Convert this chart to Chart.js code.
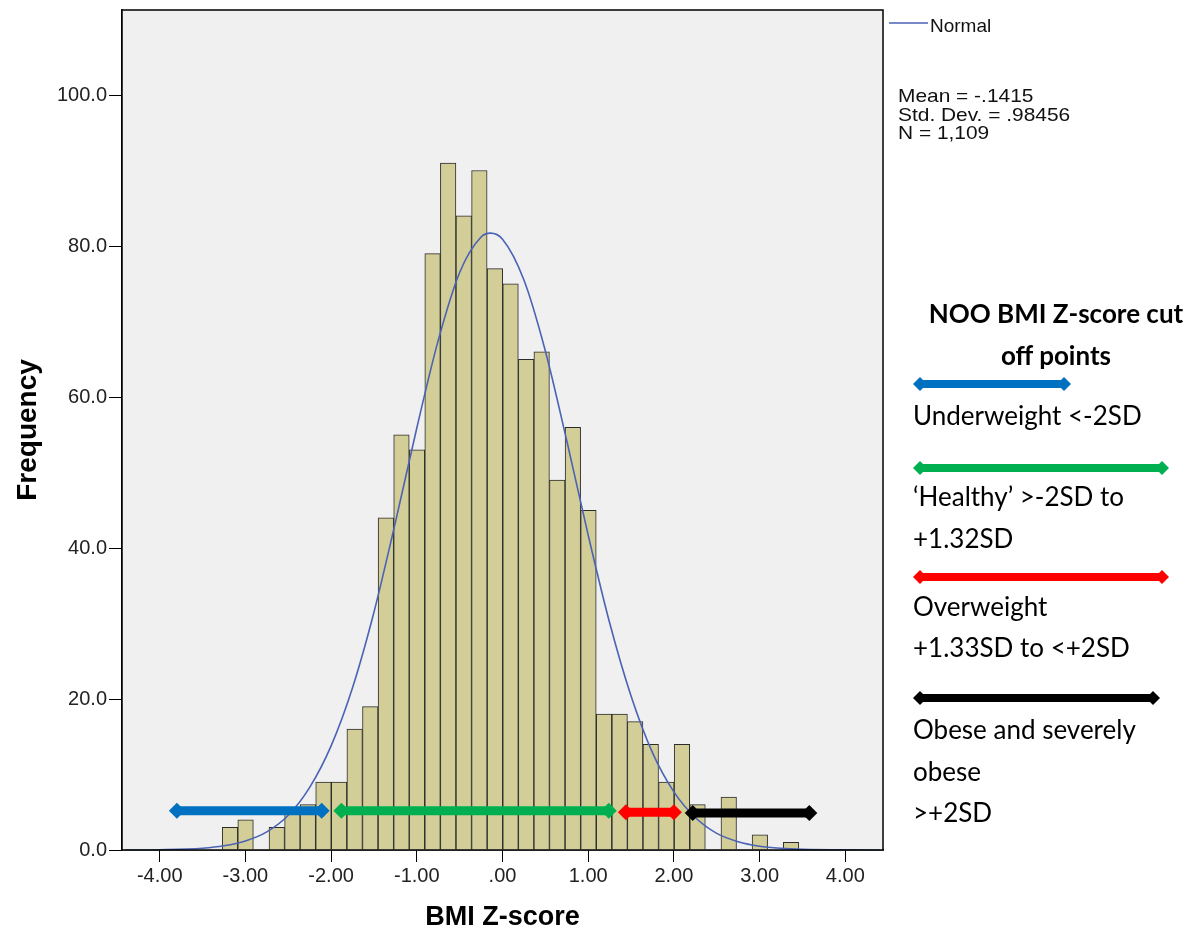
<!DOCTYPE html>
<html>
<head>
<meta charset="utf-8">
<title>BMI Z-score histogram</title>
<script src="https://cdn.jsdelivr.net/npm/chart.js@4.4.1/dist/chart.umd.min.js"></script>
<style>
  body { margin: 0; background: #fff; }
  #wrap { position: relative; width: 1203px; height: 936px; overflow: hidden; }
  #chart { position: absolute; left: 0; top: 0; }
  .spss { position: absolute; font-family: "Liberation Sans", Arial, sans-serif; font-size: 19px; color: #111; white-space: nowrap; transform-origin: left top; }
  .note { position: absolute; left: 913px; font-family: Lato, "Open Sans", sans-serif; font-size: 26px; line-height: 42px; white-space: nowrap; color: #000; }
  .head { font-weight: bold; left: 900px; width: 312px; text-align: center; }
  #keys { position: absolute; left: 0; top: 0; }
</style>
</head>
<body>
<div id="wrap">
  <canvas id="chart" width="1203" height="936"></canvas>

  <!-- legend and stats like the SPSS output -->
  <svg id="keys" width="1203" height="936">
    <line x1="889" y1="23" x2="928" y2="23" stroke="#4a63b5" stroke-width="1.5"></line>
  </svg>
  <div class="spss" style="left:930px; top:15px;">Normal</div>
  <div class="spss" style="left:898px; top:87px; line-height:18.7px; font-size:18.5px; transform:scaleX(1.13);">Mean = -.1415<br>Std. Dev. = .98456<br>N = 1,109</div>

  <!-- cut off points panel -->
  <div class="note head" style="top:292px;">NOO BMI Z-score cut</div>
  <div class="note head" style="top:334px;">off points</div>
  <div class="note" style="top:394px;">Underweight &lt;-2SD</div>
  <div class="note" style="top:475px;">‘Healthy’ &gt;-2SD to</div>
  <div class="note" style="top:517px;">+1.32SD</div>
  <div class="note" style="top:585px;">Overweight</div>
  <div class="note" style="top:626px;">+1.33SD to &lt;+2SD</div>
  <div class="note" style="top:708px;">Obese and severely</div>
  <div class="note" style="top:750px;">obese</div>
  <div class="note" style="top:791px;">&gt;+2SD</div>
</div>

<script>
// histogram bins (centre of each bin) and frequencies
const binCenters = [-3.180, -2.998, -2.816, -2.634, -2.452, -2.271, -2.089, -1.907, -1.725, -1.543,
  -1.361, -1.179, -0.998, -0.816, -0.634, -0.452, -0.270, -0.088, 0.094, 0.276,
  0.457, 0.639, 0.821, 1.003, 1.185, 1.367, 1.548, 1.730, 1.912, 2.094,
  2.276, 2.458, 2.640, 2.821, 3.003, 3.185, 3.367];
const counts = [3, 4, 0, 3, 5, 6, 9, 9, 16, 19,
  44, 55, 53, 79, 91, 84, 90, 77, 75, 65,
  66, 49, 56, 45, 18, 18, 17, 14, 9, 14,
  6, 0, 7, 0, 2, 0, 1];

// normal curve
const curveX = [-4.4, -4.0, -3.5, -3.25, -3.0, -2.75, -2.5, -2.25, -2.0, -1.75, -1.5, -1.25, -1.0, -0.75, -0.5, -0.25, -0.14,
  0.0, 0.25, 0.5, 0.75, 1.0, 1.25, 1.5, 1.75, 2.0, 2.25, 2.5, 2.75, 3.0, 3.25, 3.5, 4.0, 4.4];
const curveY = [0.0, 0.04, 0.24, 0.56, 1.2, 2.4, 4.6, 8.3, 13.8, 21.5, 31.5, 43.4, 55.9, 67.5, 76.5, 81.2, 81.7,
  80.9, 75.5, 66.1, 54.2, 41.7, 30.1, 20.4, 12.9, 7.7, 4.3, 2.2, 1.1, 0.5, 0.22, 0.09, 0.01, 0.0];

// NOO cut off arrows drawn on the histogram
const cutNames = ["Underweight", "Healthy", "Overweight", "Obese"];
const cutFrom = [-3.80, -1.88, 1.44, 2.22];
const cutTo = [-2.11, 1.24, 2.00, 3.58];
const cutLevel = [5.2, 5.2, 5.0, 4.9];
const cutColors = ["#0070c0", "#00b050", "#ff0000", "#000000"];

const yTicks = [0, 20, 40, 60, 80, 100];
const xTicks = [-4, -3, -2, -1, 0, 1, 2, 3, 4];

// side panel key arrows (same colours)
const keyBox = [[913, 1071, 384], [913, 1169, 468], [913, 1169, 577], [913, 1160, 698]];
let svg = document.getElementById("keys");
keyBox.forEach((k, i) => {
  let c = cutColors[i];
  let line = document.createElementNS("http://www.w3.org/2000/svg", "line");
  line.setAttribute("x1", k[0] + 6);
  line.setAttribute("x2", k[1] - 6);
  line.setAttribute("y1", k[2]);
  line.setAttribute("y2", k[2]);
  line.setAttribute("stroke", c);
  line.setAttribute("stroke-width", 8);
  svg.appendChild(line);
  [[k[0], 1], [k[1], -1]].forEach(([tip, dir]) => {
    let p = document.createElementNS("http://www.w3.org/2000/svg", "polygon");
    let y = k[2];
    p.setAttribute("points",
      `${tip},${y} ${tip + dir * 7},${y - 7} ${tip + dir * 14},${y} ${tip + dir * 7},${y + 7}`);
    p.setAttribute("fill", c);
    svg.appendChild(p);
  });
});

function spssNum(v) {
  let s = v.toFixed(2);
  return s.replace(/^(-?)0\./, "$1.");
}

// grey plot background and frame
const plotFrame = {
  id: "plotFrame",
  beforeDatasetsDraw(chart) {
    let a = chart.chartArea;
    let ctx = chart.ctx;
    ctx.save();
    ctx.fillStyle = "#f0f0f0";
    ctx.fillRect(a.left, a.top, a.right - a.left, a.bottom - a.top);
    ctx.restore();
  },
  afterDraw(chart) {
    let a = chart.chartArea;
    let ctx = chart.ctx;
    ctx.save();
    ctx.strokeStyle = "#000";
    ctx.lineWidth = 1.5;
    ctx.strokeRect(a.left, a.top, a.right - a.left, a.bottom - a.top);
    ctx.restore();
  },
};

const datasets = [];

cutNames.forEach((name, i) => {
  datasets.push({
    type: "line",
    label: name,
    data: [{ x: cutFrom[i], y: cutLevel[i] }, { x: cutTo[i], y: cutLevel[i] }],
    borderColor: cutColors[i],
    backgroundColor: cutColors[i],
    borderWidth: 9,
    pointStyle: "rectRot",
    pointRadius: 8,
    pointBorderWidth: 0,
    order: 1,
  });
});

datasets.push({
  type: "line",
  label: "Normal",
  data: curveX.map((x, i) => ({ x: x, y: curveY[i] })),
  borderColor: "#4a63b5",
  borderWidth: 1.6,
  pointRadius: 0,
  cubicInterpolationMode: "monotone",
  order: 2,
});

datasets.push({
  type: "bar",
  label: "Frequency",
  data: binCenters.map((x, i) => ({ x: x, y: counts[i] || null })),
  backgroundColor: "#d3ce97",
  borderColor: "#2b2b2b",
  borderWidth: 1,
  borderSkipped: "bottom",
  barPercentage: 1.0,
  categoryPercentage: 1.0,
  grouped: false,
  order: 3,
});

Chart.defaults.font.family = "'Liberation Sans', Arial, sans-serif";
Chart.defaults.color = "#222";

new Chart(document.getElementById("chart"), {
  type: "bar",
  data: { datasets: datasets },
  plugins: [plotFrame],
  options: {
    responsive: false,
    animation: false,
    layout: { padding: { top: 10, right: 320, left: 0, bottom: 0 } },
    plugins: {
      legend: { display: false },
      tooltip: { enabled: false },
    },
    scales: {
      x: {
        type: "linear",
        min: -4.44,
        max: 4.44,
        offset: false,
        afterFit: (s) => {
          s.height = 86;
          s.paddingLeft = 0;
          s.paddingRight = 0;
        },
        afterBuildTicks: (s) => { s.ticks = xTicks.map((v) => ({ value: v })); },
        grid: { drawOnChartArea: false, offset: false, color: "#000", tickLength: 12 },
        border: { display: true, color: "#000", width: 1.5 },
        ticks: {
          padding: 2,
          maxRotation: 0,
          font: { size: 20 },
          callback: (v) => spssNum(v),
        },
        title: {
          display: true,
          text: "BMI Z-score",
          font: { size: 27, weight: "bold" },
          color: "#000",
          padding: { top: 0, bottom: 2 },
        },
      },
      y: {
        min: 0,
        max: 111.26,
        afterFit: (s) => {
          s.width = 122;
          s.paddingTop = 0;
          s.paddingBottom = 0;
        },
        afterBuildTicks: (s) => { s.ticks = yTicks.map((v) => ({ value: v })); },
        grid: { drawOnChartArea: false, color: "#000", tickLength: 13 },
        border: { display: true, color: "#000", width: 1.5 },
        ticks: {
          padding: 2,
          font: { size: 20 },
          callback: (v) => v.toFixed(1),
        },
        title: {
          display: true,
          text: "Frequency",
          font: { size: 28, weight: "bold" },
          color: "#000",
          padding: { top: 11, bottom: 0 },
        },
      },
    },
  },
});
</script>
</body>
</html>
